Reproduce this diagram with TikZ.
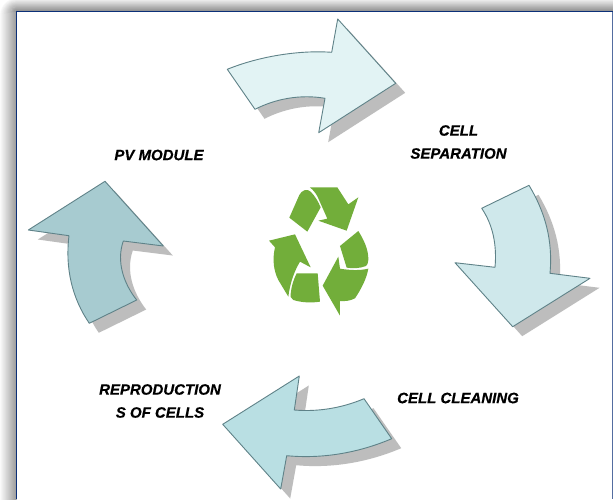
\documentclass[tikz,border=0pt]{standalone}
\usepackage{fontspec}
\setmainfont{Liberation Sans}
\newfontfamily\labelfont[FakeBold=0.5]{Liberation Sans Bold Italic}
\definecolor{frameblue}{HTML}{0B2F78}
\definecolor{edgegrey}{HTML}{5F8288}
\definecolor{shadowgrey}{HTML}{BDBDBD}
\definecolor{arrowA}{HTML}{E2F3F4}
\definecolor{arrowB}{HTML}{CFE8EB}
\definecolor{arrowC}{HTML}{B9DFE3}
\definecolor{arrowD}{HTML}{A7CBD0}
\definecolor{leafgreen}{HTML}{72AE3A}
\tikzset{
  stepshadow/.style={fill=shadowgrey,draw=none,shift={(9.5,9.5)}},
  cyclearrow/.style={draw=edgegrey,line width=0.9pt,line join=round},
  leaf/.style={fill=leafgreen,draw=none},
  steplabel/.style={font=\labelfont\fontsize{15}{23}\selectfont,align=center,text=black}
}
\newcommand{\arrowone}{(227.3,69.3) .. controls (260,56) and (300,50) .. (331.7,52.3) -- (337.7,19) -- (395.7,83.3) -- (318.7,132.7) -- (325,98.3) .. controls (300,94) and (275,99) .. (255,109.3) -- cycle}
\newcommand{\arrowtwo}{(481.7,208.3) -- (529,185.3) .. controls (545,212) and (553,240) .. (550,273.3) -- (590,278.3) -- (512.7,326.7) -- (455,262.7) -- (495,267.3) .. controls (497,245) and (493,225) .. (481.7,208.3) -- cycle}
\newcommand{\arrowthree}{(364,398.7) -- (391.7,438.7) .. controls (358,453) and (322,459) .. (286.7,455.7) -- (280.7,489) -- (222.7,424.3) -- (299.3,376) -- (294.3,410) .. controls (318,412) and (342,408) .. (364,398.7) -- cycle}
\newcommand{\arrowfour}{(89.3,323.3) -- (136.7,300) .. controls (124,284) and (116,262) .. (123.3,241) -- (163.3,246) -- (105,181.3) -- (28.3,230) -- (69,235.7) .. controls (65,268) and (72,298) .. (89.3,323.3) -- cycle}
\begin{document}
\begin{tikzpicture}[x=1pt,y=-1pt]
\useasboundingbox (0,0) rectangle (613,499);
\fill[white] (0,0) rectangle (613,499);
% soft shadow of the frame: nested rounded outlines, outermost first
\begin{scope}
\clip (0,0) rectangle (613,499);
\foreach \i in {16,15,...,0}{
  \pgfmathsetmacro{\shadeamount}{42*(1-\i/16)}
  \pgfmathsetmacro{\xx}{16-\i}
  \pgfmathsetmacro{\yy}{11-\i*11/14}
  \pgfmathsetmacro{\rr}{\i+0.5}
  \draw[color=black!\shadeamount,line width=1.3pt,rounded corners=\rr pt] (\xx,510) -- (\xx,\yy) -- (620,\yy);
}
\end{scope}
% frame
\fill[white] (16.5,11.5) rectangle (613,499);
\draw[frameblue,line width=1.8pt] (16.5,499) -- (16.5,11.5) -- (613,11.5);
\draw[frameblue!70,line width=1.2pt] (612.5,11.5) -- (612.5,499);
% shadows
\fill[stepshadow] \arrowone;
\fill[stepshadow] \arrowtwo;
\fill[stepshadow] \arrowthree;
\fill[stepshadow] \arrowfour;
% arrows
\filldraw[cyclearrow,fill=arrowA] \arrowone;
\filldraw[cyclearrow,fill=arrowB] \arrowtwo;
\filldraw[cyclearrow,fill=arrowC] \arrowthree;
\filldraw[cyclearrow,fill=arrowD] \arrowfour;
% recycling symbol
\begin{scope}[shift={(250,170)},x=0.3333pt,y=-0.3333pt]
\fill[leaf] (118,143) -- (148,75) .. controls (155,60) and (172,55) .. (182,65) .. controls (195,78) and (205,95) .. (212,112) -- (172,185) -- cycle;
\fill[leaf] (180,52) -- (262,52) -- (295,103) -- (325,82) -- (290,182) -- (205,152) -- (232,146) -- (208,92) .. controls (202,75) and (192,62) .. (180,52) -- cycle;
\fill[leaf] (270,228) -- (325,183) .. controls (342,210) and (356,240) .. (355,270) .. controls (354,280) and (352,285) .. (348,288) .. controls (330,295) and (310,296) .. (290,293) -- cycle;
\fill[leaf] (265,260) -- (270,296) .. controls (300,301) and (330,302) .. (355,296) .. controls (350,325) and (335,355) .. (315,385) .. controls (300,393) and (285,394) .. (270,393) -- (270,437) -- (218,347) -- cycle;
\fill[leaf] (140,310) -- (203,310) -- (210,395) .. controls (185,399) and (155,398) .. (130,390) .. controls (122,385) and (120,378) .. (122,372) .. controls (124,350) and (130,330) .. (140,310) -- cycle;
\fill[leaf] (57,212) -- (135,193) -- (182,292) -- (150,275) .. controls (132,305) and (120,340) .. (115,380) -- (85,330) .. controls (72,305) and (66,270) .. (75,232) -- cycle;
\end{scope}
% labels
\node[steplabel] (sep) at (458.5,142) {CELL\\SEPARATION};
\node[steplabel] (pv) at (159,155) {PV MODULE};
\node[steplabel] (clean) at (458,398) {CELL CLEANING};
\node[steplabel] (repro) at (160,401) {REPRODUCTION\\S OF CELLS};
\end{tikzpicture}
\end{document}
